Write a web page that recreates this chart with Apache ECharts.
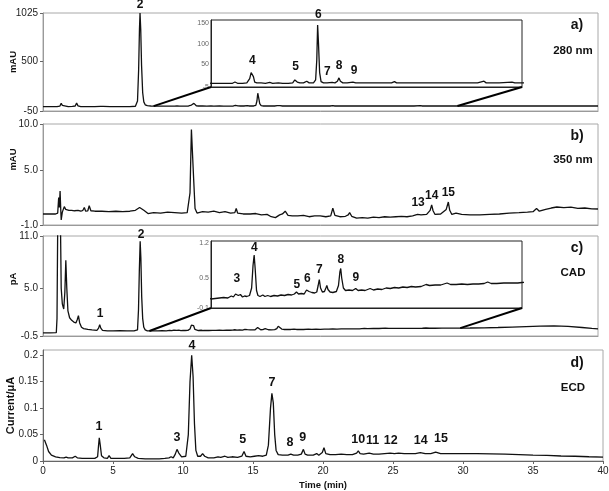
<!DOCTYPE html>
<html><head><meta charset="utf-8">
<script src="https://cdn.jsdelivr.net/npm/echarts@6/dist/echarts.min.js"></script>
<style>html,body{margin:0;padding:0;background:#fff}#c{width:609px;height:491px}</style>
</head><body><div id="c"></div>
<script>
// ---------- DATA ----------
// a) UV 280 nm (mAU): [time (min), signal]
const traceA = [[0,-2],[0.5,-3],[1.0,-2],[1.2,3],[1.3,35],[1.38,12],[1.5,0],[1.8,-2],[2.1,0],[2.3,5],[2.4,38],[2.5,6],[2.7,-1],[3.2,-2],[3.7,-1],[4.1,0],[4.2,12],[4.3,0],[4.8,-2],[5.5,-2],[6.2,-1],[6.6,2],[6.75,60],[6.83,400],[6.89,850],[6.93,1025],[6.98,850],[7.04,450],[7.12,150],[7.2,50],[7.3,18],[7.45,8],[7.7,5],[7.9,4],[8.3,4],[8.7,4],[9.1,4],[9.4,4],[9.57,7],[9.75,4],[10.1,4],[10.4,5],[10.6,15],[10.7,30],[10.78,34],[10.86,20],[10.95,7],[11.1,5],[11.4,5],[11.7,4],[12.0,6],[12.2,4],[12.6,5],[12.9,4],[13.3,4],[13.6,5],[13.75,12],[13.83,14],[13.92,7],[14.1,5],[14.35,5],[14.58,9],[14.75,5],[15.05,5],[15.2,12],[15.28,60],[15.34,145],[15.4,100],[15.48,30],[15.58,8],[15.75,5],[16.0,5],[16.35,6],[16.55,5],[16.72,9],[16.83,17],[16.93,9],[17.1,5],[17.4,5],[17.8,7],[18.0,5],[18.5,5],[19.0,5],[19.5,5],[20.0,5],[20.5,5],[20.7,8],[20.85,5],[21.5,5],[22.5,5],[23.5,5],[24.5,5],[25.5,5],[26.5,5],[26.95,9],[27.1,5],[28,5],[28.9,7],[29.1,5],[30,5],[32,5],[34,5],[36,5],[38,5],[39.64,5]];
// b) UV 350 nm (mAU)
const traceB = [[0,0.2],[0.1,0.4],[0.3,0.2],[0.6,0.2],[0.9,0.2],[1.05,0.3],[1.12,2.0],[1.17,0.9],[1.22,2.7],[1.27,0.6],[1.3,-0.45],[1.38,0.4],[1.52,1.0],[1.62,0.7],[1.69,0.7],[1.85,0.6],[2.05,0.6],[2.25,0.55],[2.5,0.6],[2.7,0.5],[2.85,0.6],[2.95,0.9],[3.05,0.5],[3.2,0.55],[3.3,1.1],[3.42,0.55],[3.7,0.5],[4.2,0.5],[4.7,0.45],[5.2,0.5],[5.7,0.45],[6.2,0.5],[6.6,0.6],[6.9,0.9],[7.2,0.6],[7.5,0.25],[7.9,0.35],[8.4,0.3],[8.9,0.4],[9.4,0.35],[9.9,0.3],[10.3,0.35],[10.5,2.5],[10.6,9.4],[10.68,9.3],[10.76,4.0],[10.86,0.8],[11.0,0.3],[11.4,0.45],[11.8,0.4],[12.2,0.5],[12.6,0.35],[13.0,0.45],[13.4,0.3],[13.7,0.35],[13.8,0.8],[13.9,0.3],[14.3,0.2],[14.8,0.2],[15.2,0.25],[15.6,0.1],[16.0,0.15],[16.3,-0.1],[16.6,-0.2],[16.9,0.1],[17.1,0.2],[17.3,0.5],[17.5,0.05],[17.8,0.0],[18.2,0.0],[18.6,0.05],[19.0,-0.1],[19.4,0.0],[19.8,0.0],[20.2,-0.1],[20.55,0.0],[20.7,0.82],[20.85,0.05],[21.2,-0.1],[21.6,-0.05],[21.8,0.1],[21.9,0.35],[22.05,-0.05],[22.4,-0.25],[22.8,-0.2],[23.2,-0.25],[23.6,-0.15],[24.0,-0.2],[24.4,-0.1],[24.8,-0.15],[25.2,-0.1],[25.6,-0.05],[26.0,-0.1],[26.4,0.0],[26.75,0.15],[26.86,0.35],[27.0,0.1],[27.4,0.15],[27.65,0.6],[27.76,1.2],[27.86,0.55],[28.0,0.15],[28.4,0.2],[28.8,0.7],[28.95,1.5],[29.05,0.6],[29.2,0.15],[29.5,0.3],[29.9,0.15],[30.5,0.1],[31.2,0.1],[31.9,0.15],[32.6,0.2],[33.3,0.3],[34.0,0.35],[34.6,0.4],[35.0,0.45],[35.25,0.8],[35.45,0.5],[35.9,0.7],[36.3,0.85],[36.7,0.96],[37.2,0.9],[37.7,0.95],[38.2,0.8],[38.7,0.85],[39.2,0.75],[39.64,0.74]];
// c) CAD (pA)
const traceC = [[0,-0.15],[0.5,-0.15],[0.95,-0.12],[1.0,1.5],[1.05,12],[1.25,12],[1.3,5],[1.38,3.2],[1.48,2.6],[1.56,4.5],[1.63,8.2],[1.7,5],[1.78,2.4],[1.9,1.6],[2.05,1.3],[2.2,1.1],[2.35,1.0],[2.45,1.4],[2.53,1.85],[2.62,1.0],[2.75,0.5],[2.9,0.35],[3.2,0.25],[3.5,0.2],[3.85,0.15],[3.97,0.4],[4.05,0.8],[4.13,0.4],[4.25,0.15],[4.6,0.1],[5.0,0.1],[5.5,0.12],[6.0,0.1],[6.5,0.08],[6.75,0.2],[6.82,2.5],[6.88,7],[6.94,10.4],[6.99,8.5],[7.05,4],[7.12,1.5],[7.2,0.5],[7.3,0.2],[7.45,0.1],[7.6,0.08],[7.9,0.09],[8.2,0.1],[8.5,0.11],[8.8,0.1],[9.05,0.14],[9.2,0.12],[9.35,0.18],[9.44,0.22],[9.55,0.15],[9.7,0.17],[9.85,0.12],[10.0,0.14],[10.15,0.13],[10.35,0.15],[10.5,0.3],[10.6,0.75],[10.68,0.96],[10.75,0.7],[10.85,0.25],[10.95,0.15],[11.1,0.13],[11.3,0.16],[11.45,0.13],[11.65,0.15],[11.85,0.13],[12.1,0.15],[12.35,0.14],[12.6,0.16],[12.85,0.15],[13.1,0.17],[13.35,0.16],[13.55,0.18],[13.7,0.22],[13.85,0.18],[14.05,0.19],[14.25,0.18],[14.42,0.26],[14.5,0.3],[14.6,0.23],[14.8,0.21],[15.0,0.2],[15.15,0.22],[15.25,0.35],[15.33,0.47],[15.42,0.3],[15.55,0.22],[15.7,0.23],[15.8,0.3],[15.87,0.35],[15.95,0.27],[16.1,0.22],[16.3,0.21],[16.55,0.23],[16.7,0.35],[16.8,0.62],[16.86,0.69],[16.93,0.5],[17.05,0.3],[17.2,0.25],[17.45,0.26],[17.7,0.25],[17.93,0.29],[18.1,0.25],[18.35,0.26],[18.6,0.25],[18.96,0.29],[19.2,0.26],[19.5,0.28],[19.8,0.27],[20.1,0.3],[20.4,0.29],[20.7,0.31],[21.0,0.3],[21.3,0.32],[21.6,0.31],[21.9,0.33],[22.2,0.32],[22.6,0.33],[22.95,0.37],[23.2,0.35],[23.6,0.36],[24.0,0.36],[24.45,0.4],[24.7,0.37],[25.1,0.37],[25.5,0.38],[25.9,0.37],[26.3,0.38],[26.7,0.38],[27.1,0.39],[27.35,0.42],[27.6,0.39],[28.0,0.39],[28.5,0.4],[29.0,0.4],[29.5,0.4],[29.8,0.41],[30.5,0.42],[31.5,0.44],[32.5,0.48],[33.5,0.53],[34.5,0.58],[35.5,0.63],[36.5,0.66],[37.5,0.6],[38.5,0.48],[39.2,0.38],[39.64,0.32]];
// d) ECD (Current / µA)
const traceD = [[0.1,0.04],[0.15,0.042],[0.25,0.03],[0.4,0.018],[0.6,0.011],[0.9,0.008],[1.2,0.0065],[1.5,0.006],[1.65,0.0075],[1.8,0.006],[2.1,0.006],[2.3,0.009],[2.45,0.006],[2.8,0.005],[3.3,0.005],[3.7,0.005],[3.9,0.008],[3.97,0.03],[4.02,0.044],[4.09,0.03],[4.18,0.01],[4.35,0.006],[4.6,0.005],[4.72,0.01],[4.85,0.005],[5.3,0.005],[5.8,0.005],[6.2,0.006],[6.4,0.014],[6.55,0.008],[6.8,0.005],[7.3,0.004],[7.8,0.004],[8.3,0.004],[8.7,0.005],[9.0,0.006],[9.15,0.008],[9.3,0.006],[9.45,0.013],[9.57,0.022],[9.7,0.015],[9.9,0.008],[10.2,0.009],[10.38,0.05],[10.5,0.15],[10.62,0.2],[10.72,0.16],[10.82,0.07],[10.92,0.02],[11.05,0.009],[11.25,0.009],[11.4,0.014],[11.55,0.009],[11.8,0.006],[12.2,0.006],[12.5,0.008],[12.7,0.007],[13.0,0.009],[13.2,0.007],[13.5,0.008],[13.9,0.007],[14.2,0.009],[14.36,0.018],[14.5,0.009],[14.8,0.008],[15.1,0.009],[15.4,0.01],[15.7,0.009],[15.95,0.011],[16.1,0.03],[16.25,0.1],[16.35,0.128],[16.45,0.11],[16.55,0.05],[16.65,0.02],[16.8,0.012],[17.1,0.011],[17.5,0.011],[17.7,0.013],[17.9,0.011],[18.2,0.011],[18.45,0.013],[18.6,0.022],[18.72,0.013],[18.9,0.011],[19.3,0.011],[19.55,0.014],[19.7,0.011],[19.95,0.016],[20.07,0.025],[20.2,0.014],[20.5,0.012],[20.9,0.012],[21.3,0.013],[21.7,0.012],[22.1,0.012],[22.4,0.015],[22.52,0.019],[22.65,0.014],[22.9,0.013],[23.3,0.015],[23.6,0.013],[24.0,0.013],[24.4,0.014],[24.8,0.015],[25.1,0.014],[25.4,0.015],[25.8,0.014],[26.2,0.014],[26.6,0.014],[26.95,0.016],[27.3,0.014],[27.7,0.014],[28.05,0.017],[28.4,0.014],[29,0.014],[30,0.014],[31,0.014],[32,0.0135],[33,0.013],[34,0.012],[35,0.011],[36,0.0105],[37,0.0095],[38,0.009],[39,0.008],[40,0.0075]];

// peak labels: [text, time, label-centre value]
const peakLabelsA = [['2',6.93,1113]];
const peakLabelsAInset = [['4',10.78,58],['5',13.81,43],['6',15.39,169],['7',16.01,32],['8',16.83,46],['9',17.88,34]];
const peakLabelsB = [['13',26.79,1.39],['14',27.76,2.16],['15',28.95,2.48]];
const peakLabelsC = [['1',4.07,2.03],['2',7.0,11.1]];
const peakLabelsCInset = [['3',9.44,0.485],['4',10.69,1.107],['5',13.72,0.367],['6',14.48,0.485],['7',15.34,0.66],['8',16.86,0.86],['9',17.93,0.5]];
const peakLabelsD = [['1',4.0,0.066],['3',9.57,0.045],['4',10.64,0.219],['5',14.26,0.040],['7',16.36,0.149],['8',17.64,0.034],['9',18.55,0.045],['10',22.52,0.041],['11',23.55,0.038],['12',24.84,0.038],['14',26.98,0.038],['15',28.43,0.043]];

// axis ticks / ranges
const yTicksA = [-50, 500, 1025];
const yTicksB = [-1, 5, 10];
const yTicksC = [-0.5, 5, 11];
const yTicksD = [0, 0.05, 0.1, 0.15, 0.2];
const xTicksD = [0, 5, 10, 15, 20, 25, 30, 35, 40];
const insetTicksA = [-5, 50, 100, 150];
const insetTicksC = [-0.1, 0.5, 1.2];
const insetRangeA = [7.9, 29.6];
const insetRangeC = [7.6, 29.8];
const panelTags = [['a)','280 nm'],['b)','350 nm'],['c)','CAD'],['d)','ECD']];
const yNames = ['mAU','mAU','pA','Current/\u03bcA'];

// ---------- CHART ----------
const FONT = 'Liberation Sans, Arial, sans-serif';
const chart = echarts.init(document.getElementById('c'));

const grids = [
  {left:43, top:13, width:555, height:98},
  {left:43, top:124, width:555, height:101},
  {left:43, top:236, width:555, height:100},
  {left:43, top:350, width:560, height:111},
  {left:211, top:20, width:311, height:67},
  {left:211, top:241, width:311, height:67}
].map((g,i)=>Object.assign(g, {show:true, borderWidth:1, containLabel:false, outerBoundsMode:'none',
   borderColor: i>=4 ? '#222' : '#a8a8a8', backgroundColor:'#fff', z: i>=4 ? 3 : 0}));

function hiddenX(gi, min, max){
  return {type:'value', gridIndex:gi, min:min, max:max, axisLabel:{show:false}, axisTick:{show:false},
    splitLine:{show:false}, axisLine:{show:true, onZero:false, lineStyle:{color: gi>=4?'#222':'#9a9a9a', width:1}}, z: gi>=4?4:0};
}
function yAx(gi, min, max, ticks, fmt, name, nameSize, gap, pad){
  const inset = gi>=4;
  return {type:'value', gridIndex:gi, min:min, max:max, splitLine:{show:false},
    axisLine:{show:true, onZero:false, lineStyle:{color: inset?'#222':(gi===3?'#666':'#9a9a9a'), width:1}},
    axisTick:{show:!inset, customValues:ticks, length:3, lineStyle:{color:'#666'}},
    axisLabel:{customValues:ticks, formatter:fmt, fontFamily:FONT, fontSize: inset?7:10,
       color: inset?'#666':'#222', margin: inset?2:5},
    name:name||'', nameLocation:'middle', nameRotate:90, nameGap:gap||26, nameMoveOverlap:false,
    nameTextStyle:{fontFamily:FONT, fontWeight:'bold', fontSize:nameSize||9, color:'#111', padding: pad||0}, z: inset?4:0};
}

const xAxes = [
  hiddenX(0,0,39.64), hiddenX(1,0,39.64), hiddenX(2,0,39.64),
  {type:'value', gridIndex:3, min:0, max:40, interval:5, splitLine:{show:false},
   axisLine:{show:true, onZero:false, lineStyle:{color:'#666'}}, axisTick:{show:true, length:3, lineStyle:{color:'#666'}},
   axisLabel:{customValues:xTicksD, fontFamily:FONT, fontSize:10, color:'#222', margin:5},
   name:'Time (min)', nameLocation:'middle', nameGap:19, nameMoveOverlap:false,
   nameTextStyle:{fontFamily:FONT, fontWeight:'bold', fontSize:9.5, color:'#111'}},
  hiddenX(4, insetRangeA[0], insetRangeA[1]),
  hiddenX(5, insetRangeC[0], insetRangeC[1])
];
const yAxes = [
  yAx(0,-50,1025,yTicksA,v=>String(v),yNames[0],9.5,25),
  yAx(1,-1,10,yTicksB,v=>v.toFixed(1),yNames[1],9.5,25,[0,0,0,30]),
  yAx(2,-0.5,11,yTicksC,v=>v.toFixed(1),yNames[2],9.5,25,[0,0,0,14]),
  yAx(3,0,0.21,yTicksD,v=>String(+v.toFixed(2)),yNames[3],11,27),
  yAx(4,-5,157,insetTicksA,v=>String(v),'',7,0),
  yAx(5,-0.1,1.24,insetTicksC,v=>String(+v.toFixed(1)),'',7,0)
];

function trace(data, ai){
  return {type:'line', data:data, xAxisIndex:ai, yAxisIndex:ai, showSymbol:false, symbol:'none',
    lineStyle:{color:'#111', width:1.3}, silent:true, z: ai>=4?6:2, clip:true};
}
function labels(arr, ai, size){
  return {type:'scatter', xAxisIndex:ai, yAxisIndex:ai, symbolSize:0, clip:false, silent:true,
    itemStyle:{color:'#111', opacity:1}, z: 10,
    data: arr.map(d=>({value:[d[1], d[2]], name:d[0]})),
    label:{show:true, position:'inside', formatter:p=>p.name, fontFamily:FONT, fontWeight:'bold',
      fontSize:size||12, color:'#111', opacity:1, textBorderWidth:0}};
}

const graphics = [];
const tagPos = [[25,51],[136,160],[248,273],[363,388]];
panelTags.forEach((t,i)=>{
  graphics.push({type:'text', x:577, y:tagPos[i][0], style:{text:t[0], fontFamily:FONT, fontWeight:'bold', fontSize:14, fill:'#111', textAlign:'center', textVerticalAlign:'middle'}});
  graphics.push({type:'text', x:573, y:tagPos[i][1], style:{text:t[1], fontFamily:FONT, fontWeight:'bold', fontSize:11.5, fill:'#111', textAlign:'center', textVerticalAlign:'middle'}});
});

chart.setOption({
  animation:false,
  backgroundColor:'#fff',
  grid:grids, xAxis:xAxes, yAxis:yAxes,
  series:[
    trace(traceA,0), trace(traceB,1), trace(traceC,2), trace(traceD,3), trace(traceA,4), trace(traceC,5),
    labels(peakLabelsA,0), labels(peakLabelsAInset,4), labels(peakLabelsB,1),
    labels(peakLabelsC,2), labels(peakLabelsCInset,5), labels(peakLabelsD,3,12.5)
  ],
  graphic: graphics
});

// zoom connector lines: main trace at inset range ends -> inset bottom corners
function nearestVal(data, t){
  let best = data[0];
  data.forEach(d=>{ if (Math.abs(d[0]-t) < Math.abs(best[0]-t)) best = d; });
  return best[1];
}
function connectors(data, mainIdx, insetIdx, range, insetMin){
  const out = [];
  range.forEach(t=>{
    const a = chart.convertToPixel({xAxisIndex:mainIdx, yAxisIndex:mainIdx}, [t, nearestVal(data,t)]);
    const b = chart.convertToPixel({xAxisIndex:insetIdx, yAxisIndex:insetIdx}, [t, insetMin]);
    out.push({type:'line', z:20, shape:{x1:a[0], y1:a[1], x2:b[0], y2:b[1]}, style:{stroke:'#000', lineWidth:2}});
  });
  return out;
}
chart.setOption({graphic: graphics.concat(
  connectors(traceA,0,4,insetRangeA,-5),
  connectors(traceC,2,5,insetRangeC,-0.1))});
</script></body></html>
